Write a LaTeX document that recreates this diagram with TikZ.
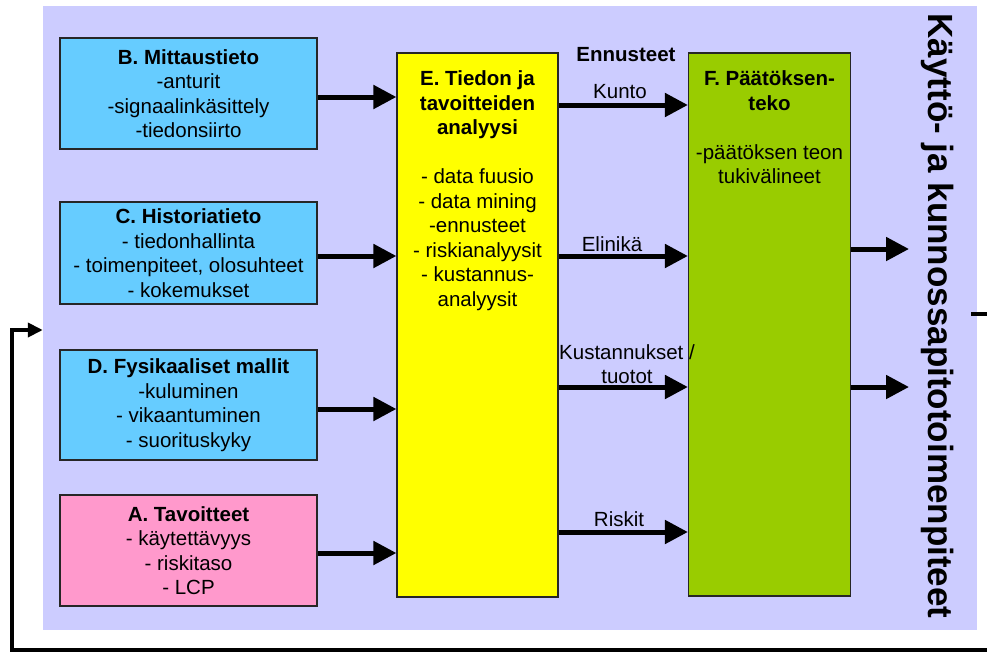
\documentclass[tikz,border=0pt]{standalone}
\usepackage{fontspec}
\setmainfont{Liberation Sans}
\usetikzlibrary{arrows.meta}

\definecolor{panel}{HTML}{CCCCFF}
\definecolor{infobox}{HTML}{66CCFF}
\definecolor{goalbox}{HTML}{FF99CC}
\definecolor{analysisbox}{HTML}{FFFF00}
\definecolor{decisionbox}{HTML}{99CC00}

\begin{document}
\begin{tikzpicture}[x=1pt,y=-1pt,
  box/.style={draw=black!85, line width=1.2pt, inner sep=0pt, align=center,
    font=\fontsize{20.5}{24.5}\selectfont},
  boxtext/.style={inner sep=0pt, align=center, anchor=north,
    font=\fontsize{20.5}{24.5}\selectfont},
  lbl/.style={inner sep=0pt, align=center, font=\fontsize{20.5}{24.5}\selectfont},
  flow/.style={line width=5pt, -{Triangle[length=23pt,width=23pt]}},
  loop/.style={line width=4pt, -{Triangle[length=15pt,width=14pt]}}
]
\useasboundingbox (0,0) rectangle (987,653);
\clip (0,0) rectangle (987,653);

% background panel
\node[fill=panel, inner sep=0pt, minimum width=934pt, minimum height=624pt] (bg) at (510,318) {};

% input boxes
\node[box, fill=infobox, minimum width=257pt, minimum height=111pt] (B) at (188.5,93.5)
  {\textbf{B. Mittaustieto}\\-anturit\\-signaalinkäsittely\\-tiedonsiirto};
\node[box, fill=infobox, minimum width=257pt, minimum height=102pt] (C) at (188.5,253)
  {\textbf{C. Historiatieto}\\- tiedonhallinta\\- toimenpiteet, olosuhteet\\- kokemukset};
\node[box, fill=infobox, minimum width=257pt, minimum height=110pt] (D) at (188.5,405)
  {\textbf{D. Fysikaaliset mallit}\\-kuluminen\\- vikaantuminen\\- suorituskyky};
\node[box, fill=goalbox, minimum width=257pt, minimum height=111pt] (A) at (188.5,550.5)
  {\textbf{A. Tavoitteet}\\- käytettävyys\\- riskitaso\\- LCP};

% analysis and decision columns
\node[box, fill=analysisbox, minimum width=161pt, minimum height=544pt] (E) at (477.5,325) {};
\node[boxtext] (Etxt) at ([yshift=-18.5pt]E.north)
  {\textbf{E. Tiedon ja}\\\textbf{tavoitteiden}\\\textbf{analyysi}\\[24.5pt]
   - data fuusio\\- data mining\\-ennusteet\\- riskianalyysit\\- kustannus-\\analyysit};
\node[box, fill=decisionbox, minimum width=162pt, minimum height=543pt] (F) at (769.5,324.5) {};
\node[boxtext] (Ftxt) at ([yshift=-18.5pt]F.north)
  {\textbf{F. Päätöksen-}\\\textbf{teko}\\[24.5pt]-päätöksen teon\\tukivälineet};

% inputs into the analysis
\draw[flow] ([yshift=-3.5pt]B.east) -- ([yshift=-3.5pt]B.east -| E.west);
\draw[flow] ([yshift=-3pt]C.east) -- ([yshift=-3pt]C.east -| E.west);
\draw[flow] ([yshift=-4pt]D.east) -- ([yshift=-4pt]D.east -| E.west);
\draw[flow] ([yshift=-2.5pt]A.east) -- ([yshift=-2.5pt]A.east -| E.west);

% forecasts from analysis to decision
\node[lbl, font=\fontsize{20.5}{24.5}\selectfont\bfseries] (ennusteet) at (626,55) {Ennusteet};
\coordinate (kE) at (E.east |- 0,105);
\coordinate (eE) at (E.east |- 0,256);
\coordinate (tE) at (E.east |- 0,387);
\coordinate (rE) at (E.east |- 0,532);
\draw[flow] (kE) -- (kE -| F.west);
\draw[flow] (eE) -- (eE -| F.west);
\draw[flow] (tE) -- (tE -| F.west);
\draw[flow] (rE) -- (rE -| F.west);
\node[lbl] (kunto) at (620,92) {Kunto};
\node[lbl] (elinika) at (612,244) {Elinikä};
\node[lbl] (kust) at (627,364) {Kustannukset /\\tuotot};
\node[lbl] (riskit) at (619,519) {Riskit};

% outputs to actions
\coordinate (o1) at (F.east |- 0,249);
\coordinate (o2) at (F.east |- 0,387);
\coordinate (o1end) at (909,249);
\coordinate (o2end) at (909,387);
\draw[flow] (o1) -- (o1end);
\draw[flow] (o2) -- (o2end);

\node[inner sep=0pt, rotate=-90, font=\fontsize{35}{38}\selectfont\bfseries] (actions) at (938,316)
  {Käyttö- ja kunnossapitotoimenpiteet};

% feedback loop
\coordinate (fb0) at (971,314);
\coordinate (fb1) at (1000,314);
\coordinate (fb2) at (1000,650);
\coordinate (fb3) at (12,650);
\coordinate (fb4) at (12,330);
\draw[loop] (fb0) -- (fb1) -- (fb2) -- (fb3) -- (fb4) -- (fb4 -| bg.west);
\end{tikzpicture}
\end{document}
